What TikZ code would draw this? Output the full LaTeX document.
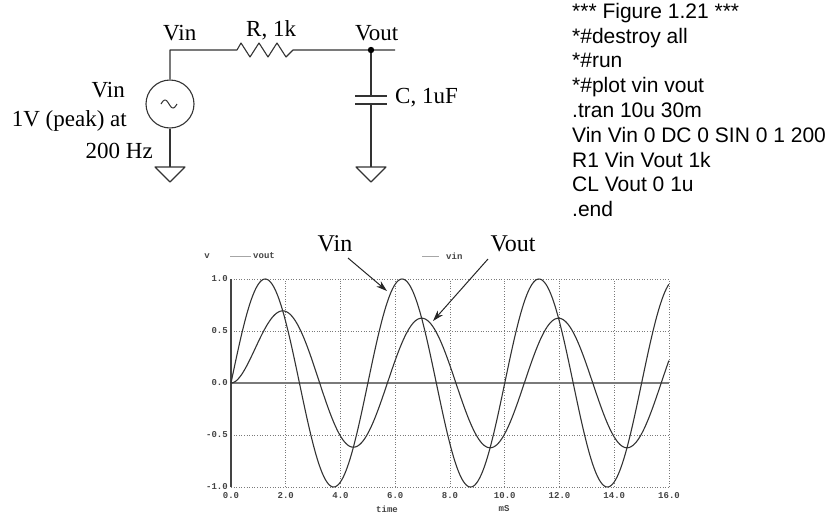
\documentclass[tikz,border=0pt]{standalone}
\usepackage{fontspec}
\setmainfont{Liberation Serif}
\newfontfamily\codefont{Liberation Sans}
\newfontfamily\plotfont{Liberation Mono}
\usetikzlibrary{arrows.meta,calc}
\definecolor{curvec}{HTML}{333333}
\definecolor{gridc}{HTML}{7A7A7A}
\definecolor{labc}{HTML}{444444}
\begin{document}
\begin{tikzpicture}[x=1pt,y=-1pt,
  wire/.style={line width=1.1pt, black!80, line join=round},
  lab/.style={inner sep=0pt, font=\fontsize{23}{26}\selectfont},
  ann/.style={inner sep=0pt, font=\fontsize{24}{27}\selectfont},
  code/.style={inner sep=0pt, anchor=base west, font=\codefont\fontsize{21}{24}\selectfont},
  gridl/.style={gridc, line width=0.8pt, dash pattern=on 1pt off 1.6pt},
  zerol/.style={gridc, line width=1.1pt},
  axisl/.style={labc, line width=1.1pt},
  curve/.style={curvec, line width=1.1pt},
  tick/.style={inner sep=0pt, labc, font=\plotfont\bfseries\fontsize{9}{10}\selectfont},
  legl/.style={gray!70, line width=1pt},
  arr/.style={black!85, line width=1pt, -{Stealth[length=11pt,width=7pt]}},
  gndsym/.style={wire}
]
\useasboundingbox (0,0) rectangle (831,517);

% ---------------- circuit ----------------
\node[circle, draw, line width=1.1pt, black!80, minimum size=48pt, inner sep=0pt] (src) at (170,104) {};
\draw[line width=1pt, black!80, domain=0:1, samples=30] plot ({161+16*\x}, {104-4*sin(360*\x)});
\coordinate (tl) at (170,50);
\coordinate (rA) at (237,50);
\coordinate (rB) at (293,50);
\coordinate (vo) at (371,50);
\coordinate (vend) at (395,50);
\coordinate (capT) at (371,96);
\coordinate (capB) at (371,104);
\coordinate (g1) at (170,167);
\coordinate (g2) at (371,167);
\draw[wire] (src.north) -- (tl) -- (rA)
  -- ++(4,-7) -- ++(9,14) -- ++(9,-14) -- ++(9,14) -- ++(9,-14) -- ++(9,14) -- (rB)
  -- (vo) -- (vend);
\draw[wire] (vo) -- (capT);
\draw[wire] (capB) -- (g2);
\draw[wire] ($(capT)+(-16,0)$) -- ($(capT)+(16,0)$);
\draw[wire] ($(capB)+(-16,0)$) -- ($(capB)+(16,0)$);
\draw[wire] (src.south) -- (g1);
\draw[gndsym] (g1) ++(-15,0) -- ++(30,0) -- ++(-15,15) -- cycle;
\draw[gndsym] (g2) ++(-15,0) -- ++(30,0) -- ++(-15,15) -- cycle;
\fill[black] (vo) circle (3.2);

\node[lab, anchor=base west] (lvin) at (163,40) {Vin};
\node[lab, anchor=base west] (lr) at (246,36.5) {R, 1k};
\node[lab, anchor=base west] (lvout) at (355,40) {Vout};
\node[lab, anchor=base east] (lsrc1) at (125,97) {Vin};
\node[lab, anchor=base east] (lsrc2) at (127,126) {1V (peak) at};
\node[lab, anchor=base east] (lsrc3) at (153,158) {200 Hz};
\node[lab, anchor=base west] (lc) at (395,103) {C, 1uF};

% ---------------- netlist ----------------
\node[code] (c1) at (572,18.3) {*** Figure 1.21 ***};
\node[code] (c2) at (572,43.1) {*\#destroy all};
\node[code] (c3) at (572,67.9) {*\#run};
\node[code] (c4) at (572,92.7) {*\#plot vin vout};
\node[code] (c5) at (572,117.5) {.tran 10u 30m};
\node[code] (c6) at (572,142.3) {Vin Vin 0 DC 0 SIN 0 1 200};
\node[code] (c7) at (572,167.1) {R1 Vin Vout 1k};
\node[code] (c8) at (572,191.9) {CL Vout 0 1u};
\node[code] (c9) at (572,216.7) {.end};

% ---------------- plot ----------------
\begin{scope}[shift={(231,383)}, x=27.375pt, y=104pt]
  \foreach \t in {2,4,...,16} \draw[gridl] (\t,-1) -- (\t,1);
  \foreach \v in {-1,-0.5,0.5,1} \draw[gridl] (0,\v) -- (16,\v);
  \draw[zerol] (0,0) -- (16,0);
  \draw[axisl] (0,-1) -- (0,1);
  \draw[curve, domain=0:16, samples=321, smooth] plot (\x, {sin(72*\x)});
  \draw[curve, domain=0:16, samples=321, smooth] plot (\x, {0.623*sin(72*\x-51.49)+0.4873*exp(-\x)});
  \foreach \t/\l [count=\i] in {0/0.0,2/2.0,4/4.0,6/6.0,8/8.0,10/10.0,12/12.0,14/14.0,16/16.0}
    \node[tick, anchor=north] (xt\i) at (\t,-1) [yshift=-5pt] {\l};
  \foreach \v/\l [count=\i] in {1/1.0,0.5/0.5,0/0.0,-0.5/-0.5,-1/-1.0}
    \node[tick, anchor=east] (yt\i) at (0,\v) [xshift=-3pt] {\l};
\end{scope}
\node[tick] (xtime) at (387,509) {time};
\node[tick] (xms) at (504,509) {mS};
\node[tick] (vlab) at (207,256) {v};
\coordinate (lg1a) at (230,256);
\coordinate (lg1b) at (251,256);
\draw[legl] (lg1a) -- (lg1b);
\node[tick, anchor=west] (lg1t) at (253,256) {vout};
\coordinate (lg2a) at (422,256);
\coordinate (lg2b) at (439,256);
\draw[legl] (lg2a) -- (lg2b);
\node[tick, anchor=west] (lg2t) at (446,256) {vin};

% annotations
\node[ann, anchor=base] (avin) at (335,251) {Vin};
\node[ann, anchor=base] (avout) at (513,251) {Vout};
\coordinate (avinS) at (348,258);
\coordinate (avinT) at (387,291);
\coordinate (avoutS) at (488,259);
\coordinate (avoutT) at (433,321);
\draw[arr] (avinS) -- (avinT);
\draw[arr] (avoutS) -- (avoutT);
\end{tikzpicture}
\end{document}
